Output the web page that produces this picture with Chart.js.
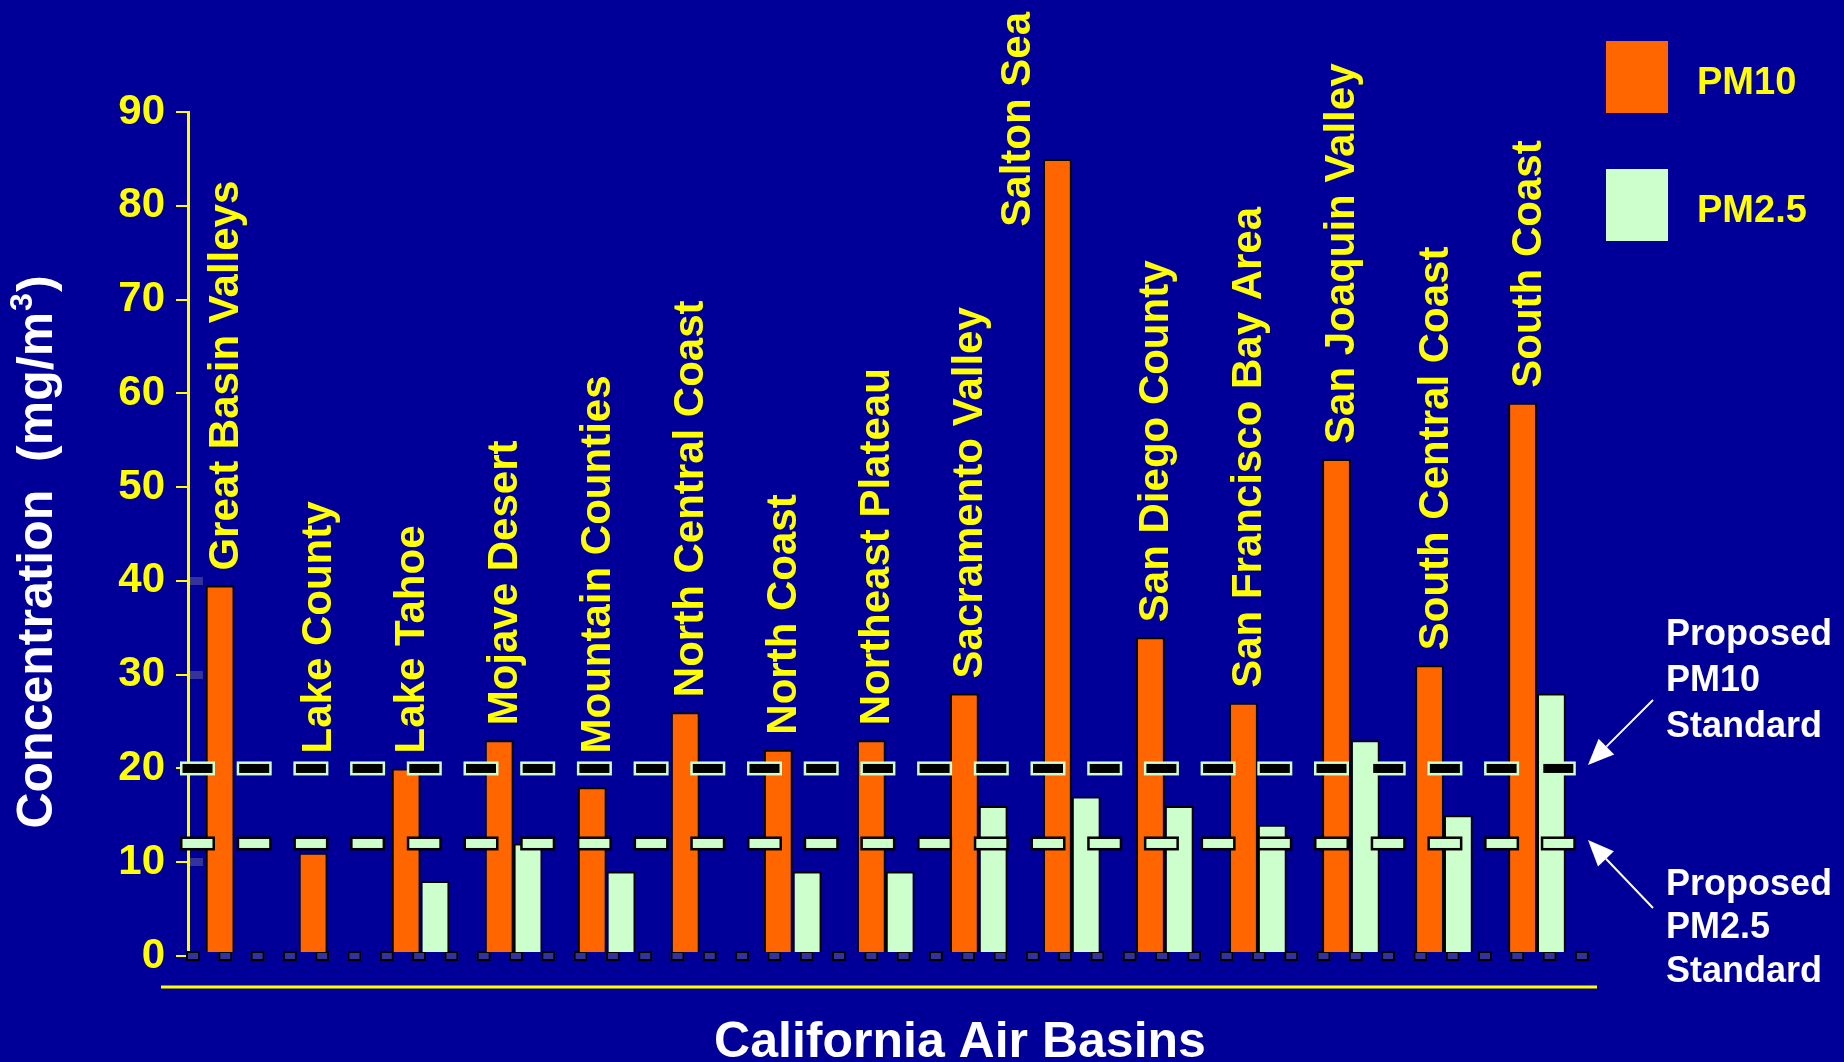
<!DOCTYPE html>
<html>
<head>
<meta charset="utf-8">
<script src="https://cdn.jsdelivr.net/npm/chart.js@4.4.1/dist/chart.umd.min.js"></script>
<style>
  html, body { margin: 0; padding: 0; background: #000099; overflow: hidden; }
  canvas { display: block; }
</style>
</head>
<body>
<canvas id="chart" width="1844" height="1062"></canvas>
<script>
// Annual average particulate concentrations by California air basin
const categories = [
  'Great Basin Valleys', 'Lake County', 'Lake Tahoe', 'Mojave Desert',
  'Mountain Counties', 'North Central Coast', 'North Coast', 'Northeast Plateau',
  'Sacramento Valley', 'Salton Sea', 'San Diego County', 'San Francisco Bay Area',
  'San Joaquin Valley', 'South Central Coast', 'South Coast'
];
const pm10Values = [39.5, 11, 20, 23, 18, 26, 22, 23, 28, 85, 34, 27, 53, 31, 59];
const pm25Values = [null, null, 8, 12, 9, null, 9, 9, 16, 17, 16, 14, 23, 15, 28];
const seriesNames = ['PM10', 'PM2.5'];
const standardValues = [20, 12];          // proposed PM10 and PM2.5 standards
const yTickValues = [0, 10, 20, 30, 40, 50, 60, 70, 80, 90];
const axisMarkValues = [10, 30, 40];
const standardNotes = [['Proposed', 'PM10', 'Standard'], ['Proposed', 'PM2.5', 'Standard']];
const yAxisTitleParts = ['Concentration  (mg/m', '3', ')'];   // middle part is a superscript
const xAxisTitle = 'California Air Basins';

const COLORS = {
  pm10: '#FF6600', pm25: '#CCFFCC', yellow: '#FFFF00', white: '#FFFFFF',
  black: '#000000', marker: '#333399'
};
const FONT = '"Liberation Sans", Arial, Helvetica, sans-serif';

// Dashed reference rules: a dotted baseline under the bars and the two
// standard levels over them, each dash an outlined block on the y scale.
const rules = {
  id: 'rules',
  beforeDatasetsDraw(chart) {
    const { ctx, chartArea: a, scales: { y } } = chart;
    const y0 = y.getPixelForValue(0);
    ctx.save();
    ctx.fillStyle = COLORS.marker;
    ctx.strokeStyle = COLORS.black;
    ctx.lineWidth = 2;
    for (let x = a.left - 2; x < a.right - 4; x += 32.3) {
      ctx.fillRect(x, y0 - 5, 14, 10);
      ctx.strokeRect(x + 1, y0 - 4, 12, 8);
    }
    ctx.restore();
  },
  afterDatasetsDraw(chart) {
    const { ctx, chartArea: a, scales: { y } } = chart;
    const looks = [
      { fill: COLORS.black, edge: COLORS.pm25 },
      { fill: COLORS.pm25, edge: COLORS.black }
    ];
    ctx.save();
    standardValues.forEach((v, k) => {
      const yy = y.getPixelForValue(v);
      for (let x = a.left - 8; x < a.right; x += 56.7) {
        ctx.fillStyle = looks[k].edge;
        ctx.fillRect(x, yy - 7, 35, 14);
        ctx.fillStyle = looks[k].fill;
        ctx.fillRect(x + 2.5, yy - 4.5, 30, 9);
      }
    });
    ctx.restore();
  }
};

const decorations = {
  id: 'decorations',
  afterDatasetsDraw(chart) {
    const { ctx, scales: { y } } = chart;
    const meta = chart.getDatasetMeta(0);
    ctx.save();
    ctx.fillStyle = COLORS.yellow;
    ctx.font = 'bold 42px ' + FONT;
    ctx.textBaseline = 'alphabetic';
    categories.forEach((name, i) => {
      const bar = meta.data[i];
      const len = ctx.measureText(name).width;
      const start = y.getPixelForValue(Math.max(pm10Values[i], standardValues[0])) - 15;
      ctx.save();
      if (start - len < 0) {
        // no room above the bar: run the name down beside it from the top edge
        ctx.translate(bar.x - bar.width / 2 - 13, 12);
        ctx.rotate(-Math.PI / 2);
        ctx.textAlign = 'right';
      } else {
        ctx.translate(bar.x + 18, start);
        ctx.rotate(-Math.PI / 2);
        ctx.textAlign = 'left';
      }
      ctx.fillText(name, 0, 0);
      ctx.restore();
    });
    ctx.restore();
  },
  afterDraw(chart) {
    const { ctx } = chart;
    ctx.save();

    // y axis title, with a raised exponent
    ctx.fillStyle = COLORS.white;
    ctx.textBaseline = 'alphabetic';
    ctx.textAlign = 'left';
    const big = 'bold 50px ' + FONT, small = 'bold 32px ' + FONT;
    ctx.font = big;
    const w1 = ctx.measureText(yAxisTitleParts[0]).width;
    const w3 = ctx.measureText(yAxisTitleParts[2]).width;
    ctx.font = small;
    const w2 = ctx.measureText(yAxisTitleParts[1]).width + 2;
    ctx.save();
    ctx.translate(52, 552);
    ctx.rotate(-Math.PI / 2);
    let x0 = -(w1 + w2 + w3) / 2;
    ctx.font = big;
    ctx.fillText(yAxisTitleParts[0], x0, 0);
    ctx.font = small;
    ctx.fillText(yAxisTitleParts[1], x0 + w1 + 1, -20);
    ctx.font = big;
    ctx.fillText(yAxisTitleParts[2], x0 + w1 + w2, 0);
    ctx.restore();

    ctx.font = big;
    ctx.textAlign = 'center';
    ctx.fillText(xAxisTitle, 960, 1057);

    // rule under the plot
    ctx.strokeStyle = COLORS.yellow;
    ctx.lineWidth = 3;
    ctx.beginPath();
    ctx.moveTo(161, 987);
    ctx.lineTo(1597, 987);
    ctx.stroke();

    // legend
    const boxes = [[41, 94], [169, 222]];
    chart.data.datasets.forEach((ds, i) => {
      ctx.fillStyle = ds.backgroundColor;
      ctx.fillRect(1606, boxes[i][0], 62, 72);
      ctx.fillStyle = COLORS.yellow;
      ctx.font = 'bold 38px ' + FONT;
      ctx.textAlign = 'left';
      ctx.fillText(ds.label, 1697, boxes[i][1]);
    });

    // notes for the standard lines
    ctx.fillStyle = COLORS.white;
    ctx.font = 'bold 36px ' + FONT;
    ctx.textAlign = 'left';
    const noteBaselines = [[645, 691, 737], [895, 938, 982]];
    standardNotes.forEach((lines, k) => {
      lines.forEach((t, j) => ctx.fillText(t, 1666, noteBaselines[k][j]));
    });

    // arrows pointing at the standard lines
    const arrow = (x1, y1, x2, y2) => {
      const a = Math.atan2(y2 - y1, x2 - x1);
      const hl = 26, hw = 11;
      const bx = x2 - hl * Math.cos(a), by = y2 - hl * Math.sin(a);
      ctx.strokeStyle = COLORS.white;
      ctx.lineWidth = 2;
      ctx.beginPath();
      ctx.moveTo(x1, y1);
      ctx.lineTo(bx, by);
      ctx.stroke();
      ctx.fillStyle = COLORS.white;
      ctx.beginPath();
      ctx.moveTo(x2, y2);
      ctx.lineTo(bx + hw * Math.sin(a), by - hw * Math.cos(a));
      ctx.lineTo(bx - hw * Math.sin(a), by + hw * Math.cos(a));
      ctx.closePath();
      ctx.fill();
    };
    arrow(1653, 700, 1588, 765);
    arrow(1653, 908, 1588, 840);

    ctx.restore();
  }
};

new Chart(document.getElementById('chart').getContext('2d'), {
  type: 'bar',
  data: {
    labels: categories,
    datasets: [
      { label: seriesNames[0], data: pm10Values, backgroundColor: COLORS.pm10, borderColor: COLORS.black,
        borderWidth: 2, categoryPercentage: 0.62, barPercentage: 1.0 },
      { label: seriesNames[1], data: pm25Values, backgroundColor: COLORS.pm25, borderColor: COLORS.black,
        borderWidth: 2, categoryPercentage: 0.62, barPercentage: 1.0 }
    ]
  },
  options: {
    responsive: false,
    animation: false,
    devicePixelRatio: 1,
    layout: { padding: { left: 0, top: 112, right: 260.5, bottom: 106 } },
    plugins: { legend: { display: false }, tooltip: { enabled: false }, title: { display: false } },
    scales: {
      x: { type: 'category', display: false, offset: true, grid: { display: false } },
      y: {
        min: 0, max: 90,
        afterFit: s => { s.width = 188; },
        afterBuildTicks: s => { s.ticks = yTickValues.map(v => ({ value: v })); },
        ticks: { color: COLORS.yellow, padding: 11, font: { family: FONT, size: 42, weight: 'bold' } },
        grid: {
          color: c => (c.tick && axisMarkValues.includes(c.tick.value)) ? COLORS.marker : 'transparent',
          lineWidth: 8,
          drawTicks: true,
          tickColor: COLORS.yellow,
          tickWidth: 2,
          tickLength: 12
        },
        border: { display: true, color: COLORS.yellow, width: 3, dash: [13, 4000] }
      }
    }
  },
  plugins: [rules, decorations]
});
</script>
</body>
</html>
